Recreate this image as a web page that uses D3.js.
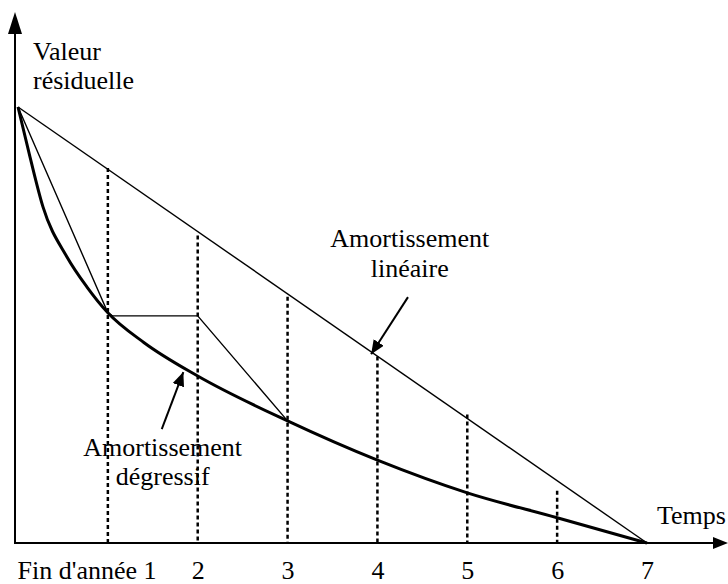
<!DOCTYPE html>
<html>
<head>
<meta charset="utf-8">
<script src="https://cdn.jsdelivr.net/npm/d3@7"></script>
<style>
  html, body { margin: 0; padding: 0; background: #fff; }
</style>
</head>
<body>
<svg id="chart" width="728" height="584"></svg>
<script>
// ---- data ----
const years = [1, 2, 3, 4, 5, 6, 7];
const tickLabels = ["Fin d'année 1", "2", "3", "4", "5", "6", "7"];
const linearSeries = [[0, 100], [7, 0]];
const degressiveSeries = [
  [0, 100], [0.134, 88.5], [0.278, 77.1], [0.545, 65.6], [0.768, 58.7],
  [1, 52.8], [1.4, 46.0], [2, 38.3], [3, 28.0], [4, 19.0], [5, 11.5], [6, 5.8], [7, 0]
];
const switchSeries = [[0, 100], [1, 52.8], [1.05, 52.1], [2, 52.1], [3, 28.0]];
const dottedTops = [86, 70.5, 56.5, 42.8, 29.5, 12];
const yAxisTitle = ["Valeur", "résiduelle"];
const xAxisTitle = "Temps";
const linearLabel = ["Amortissement", "linéaire"];
const degressiveLabel = ["Amortissement", "dégressif"];
// annotation anchors in data units [year, value]
const linearArrow = [[4.34, 56.4], [3.93, 43.3]];
const degressiveArrow = [[1.6, 26.1], [1.84, 39.2]];
const linearLabelPos = [4.36, 67.8];
const degressiveLabelPos = [1.61, 20];

// ---- layout ----
const FONT = "'Liberation Serif', 'Times New Roman', serif";
const svg = d3.select("#chart");
const x = d3.scaleLinear().domain([0, 7]).range([18, 647]);
const y = d3.scaleLinear().domain([0, 100]).range([543, 107]);
const axisX = 15, axisY = y(0);

const defs = svg.append("defs");
defs.append("marker")
  .attr("id", "ah").attr("viewBox", "0 0 14 12")
  .attr("refX", 14).attr("refY", 6)
  .attr("markerWidth", 14).attr("markerHeight", 12)
  .attr("markerUnits", "userSpaceOnUse")
  .attr("orient", "auto")
  .append("path").attr("d", "M0,0 L14,6 L0,12 Z").attr("fill", "#000");

// dotted verticals
svg.append("g").selectAll("line").data(years.slice(0, 6)).join("line")
  .attr("x1", d => x(d)).attr("x2", d => x(d))
  .attr("y1", (d, i) => y(dottedTops[i])).attr("y2", axisY)
  .attr("stroke", "#000").attr("stroke-width", 2.5)
  .attr("stroke-dasharray", "4,3");

const line = d3.line().x(d => x(d[0])).y(d => y(d[1]));

// linear
svg.append("path").datum(linearSeries).attr("d", line)
  .attr("fill", "none").attr("stroke", "#000").attr("stroke-width", 1.4);
// switch polyline
svg.append("path").datum(switchSeries).attr("d", line)
  .attr("fill", "none").attr("stroke", "#000").attr("stroke-width", 1.4);
// degressive curve
svg.append("path").datum(degressiveSeries)
  .attr("d", d3.line().x(d => x(d[0])).y(d => y(d[1])).curve(d3.curveMonotoneX))
  .attr("fill", "none").attr("stroke", "#000").attr("stroke-width", 3);

// axes
const xAxis = d3.axisBottom(x).tickValues(years)
  .tickFormat((d, i) => tickLabels[i]).tickSize(0);
const gx = svg.append("g").attr("transform", `translate(0,${axisY})`).call(xAxis);
gx.select(".domain").remove();
gx.selectAll("text").attr("dy", null).attr("y", 36).attr("fill", "#000");
gx.selectAll("text").filter((d, i) => i === 0)
  .attr("text-anchor", "start").attr("x", axisX + 2 - x(years[0]));

svg.append("line").attr("x1", axisX).attr("x2", 714).attr("y1", axisY).attr("y2", axisY)
  .attr("stroke", "#000").attr("stroke-width", 2);
svg.append("path").attr("d", `M713,${axisY - 6} L728,${axisY} L713,${axisY + 6} Z`).attr("fill", "#000");
svg.append("line").attr("x1", axisX).attr("x2", axisX).attr("y1", axisY + 1).attr("y2", 33)
  .attr("stroke", "#000").attr("stroke-width", 2);
svg.append("path").attr("d", `M${axisX - 7},34 L${axisX},12 L${axisX + 7},34 Z`).attr("fill", "#000");

// axis titles
svg.append("text").attr("x", 33).attr("y", 60).text(yAxisTitle[0]);
svg.append("text").attr("x", 33).attr("y", 89).text(yAxisTitle[1]);
svg.append("text").attr("x", 657).attr("y", 524).text(xAxisTitle);

// annotations
function label(lines, pos, gap) {
  lines.forEach((t, i) => {
    svg.append("text").attr("text-anchor", "middle")
      .attr("x", x(pos[0])).attr("y", y(pos[1]) + i * gap).text(t);
  });
}
label(linearLabel, linearLabelPos, 30);
label(degressiveLabel, degressiveLabelPos, 29);

function arrow(a) {
  svg.append("line")
    .attr("x1", x(a[0][0])).attr("y1", y(a[0][1]))
    .attr("x2", x(a[1][0])).attr("y2", y(a[1][1]))
    .attr("stroke", "#000").attr("stroke-width", 2)
    .attr("marker-end", "url(#ah)");
}
arrow(linearArrow);
arrow(degressiveArrow);

svg.selectAll("text").style("font-family", FONT).style("font-size", "26px").style("fill", "#000");
</script>
</body>
</html>
